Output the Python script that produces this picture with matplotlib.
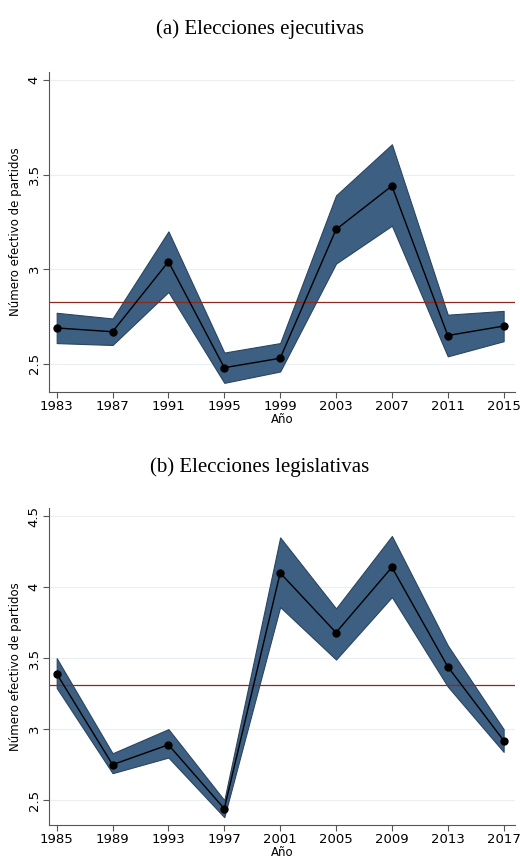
import matplotlib
matplotlib.use("Agg")
import matplotlib.pyplot as plt

years_a = ["1983","1987","1991","1995","1999","2003","2007","2011","2015"]
val_a = [2.69,2.67,3.04,2.48,2.53,3.21,3.44,2.65,2.70]
lo_a = [2.61,2.60,2.88,2.40,2.46,3.03,3.23,2.54,2.62]
hi_a = [2.77,2.74,3.20,2.56,2.61,3.39,3.66,2.76,2.78]
ref_a = 2.826

years_b = ["1985","1989","1993","1997","2001","2005","2009","2013","2017"]
val_b = [3.39,2.75,2.89,2.44,4.10,3.68,4.14,3.44,2.92]
lo_b = [3.29,2.69,2.80,2.38,3.86,3.49,3.93,3.30,2.84]
hi_b = [3.50,2.83,3.00,2.50,4.35,3.85,4.36,3.59,3.00]
ref_b = 3.31

fig = plt.figure(figsize=(5.2,8.61), dpi=100)
band = "#3d5f82"

def panel(rect, years, val, lo, hi, ref, ylim, yticks, yticklabels, title, ty):
    ax = fig.add_axes(rect)
    x = list(range(len(years)))
    ax.fill_between(x, lo, hi, color=band, edgecolor="#2a4560", lw=0.8, zorder=2)
    ax.plot(x, val, color="black", lw=1, marker="o", ms=5, zorder=3)
    ax.axhline(ref, color="#8b2a1e", lw=0.9, zorder=2)
    ax.set_xlim(-0.14, 8.2)
    ax.set_ylim(*ylim)
    ax.set_xticks(x)
    ax.set_xticklabels(years, fontsize=9.5)
    ax.set_yticks(yticks)
    ax.set_yticklabels(yticklabels, fontsize=9.5, rotation=90, va="center")
    ax.tick_params(length=4, color="#555555", pad=2)
    ax.grid(axis="y", color="#e8eef2", lw=0.8, zorder=0)
    for s in ["top","right"]:
        ax.spines[s].set_visible(False)
    for s in ["left","bottom"]:
        ax.spines[s].set_color("#555555")
    ax.set_ylabel("Número efectivo de partidos", fontsize=8.5)
    ax.set_xlabel("Año", fontsize=8.5, labelpad=0)
    fig.text(0.5, 1-ty/861, title, ha="center", va="center", fontsize=15,
             family=["Liberation Serif","DejaVu Serif"])
    return ax

panel([0.094,0.545,0.896,0.371], years_a, val_a, lo_a, hi_a, ref_a,
      (2.353,4.04), [2.5,3,3.5,4], ["2.5","3","3.5","4"], "(a) Elecciones ejecutivas", 29)
panel([0.094,0.0418,0.896,0.368], years_b, val_b, lo_b, hi_b, ref_b,
      (2.325,4.556), [2.5,3,3.5,4,4.5], ["2.5","3","3.5","4","4.5"], "(b) Elecciones legislativas", 467)

fig.savefig("out.png", dpi=100)
